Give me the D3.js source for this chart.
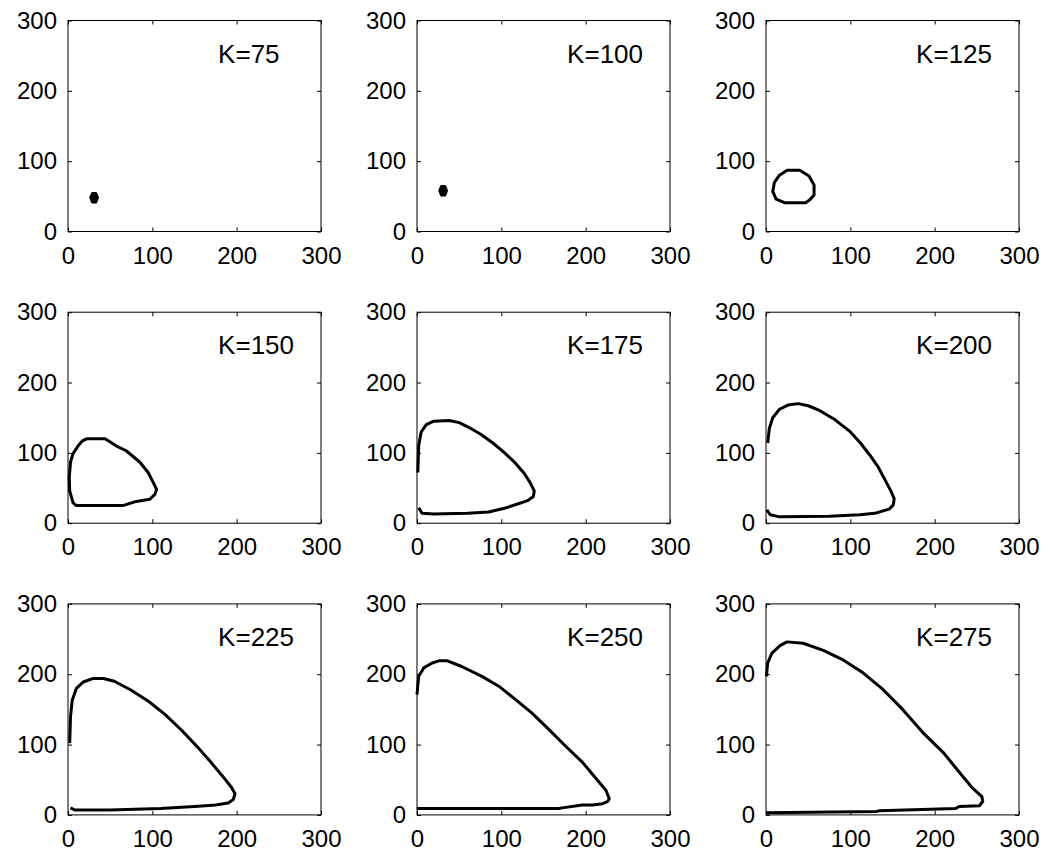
<!DOCTYPE html>
<html>
<head>
<meta charset="utf-8">
<script src="https://cdn.jsdelivr.net/npm/d3@7"></script>
<style>
body { margin: 0; background: #fff; }
text { font-family: "Liberation Sans", Arial, sans-serif; fill: #000; }
</style>
</head>
<body>
<div id="vis"></div>
<script>
// K value of each panel, row by row
var kValues = [75, 100, 125, 150, 175, 200, 225, 250, 275];
var ticks = [0, 100, 200, 300];

// boundary, [x, y] in data units
var k75 = [[29,42],[33,42],[35,48],[33,54],[29,54],[27,48]];
var k100 = [[29,52],[33,52],[35,58],[33,64],[29,64],[27,58]];
var k125 = [[25,87],[40,87],[51,79],[57,66],[57,52],[52,45],[47,41],[22,41],[12,46],[8,57],[10,70],[16,80]];
var k150 = [[22,120],[44,120],[57,110],[69,103],[85,87],[95,72],[101,58],[105,48],[103,41],[97,34],[81,31],[65,25],[10,25],[6,29],[2,46],[1.5,65],[3,87],[6,99],[12,110],[17,117]];
var k175 = [[1,72],[2,110],[5,130],[11,140],[20,145],[38,146],[50,143],[62,136],[76,126],[90,114],[104,100],[117,85],[127,71],[134,58],[139,46],[138,38],[131,32],[121,28],[106,22],[85,16],[60,14],[20,13],[6,14],[2,22]];
var k200 = [[2,114],[4,135],[8,150],[16,162],[26,168],[38,170],[50,167],[64,160],[82,147],[99,131],[112,114],[123,97],[133,80],[141,62],[148,46],[152,35],[151,26],[146,20],[129,14],[111,12],[75,10],[16,9],[5,12],[1,19]];
var k225 = [[2,102],[3,140],[5,163],[10,180],[18,189],[30,194],[42,194],[55,190],[74,178],[95,162],[115,143],[135,120],[154,96],[170,74],[184,54],[194,39],[198,30],[196,22],[190,17],[175,14],[150,12],[110,9],[50,7],[8,7],[3,10]];
var k250 = [[0,171],[2,197],[8,209],[18,216],[26,219],[36,219],[53,211],[77,197],[97,183],[117,164],[136,145],[156,122],[176,98],[196,75],[212,52],[224,35],[228,23],[226,19],[220,16],[208,14],[196,14],[172,10],[168,9],[77,9],[0,9]];
var k275 = [[0.5,197],[2,216],[7,230],[17,241],[25,246],[44,244],[68,234],[92,220],[115,202],[139,178],[162,150],[186,117],[210,89],[229,61],[245,38],[256,26],[257,19],[253,13],[229,12],[225,9],[135,6],[131,5],[0.5,3]];

var contours = [k75, k100, k125, k150, k175, k200, k225, k250, k275];
var closedLoops = [75, 100, 125, 150];

var width = 1051, height = 856;
var svg = d3.select("#vis").append("svg").attr("width", width).attr("height", height);

// panel grid
var left0 = 68, colStep = 349, top0 = 20.5, rowStep = 291.7;
var pw = 253, ph = 211;

var x = d3.scaleLinear().domain([0, 300]).range([0, pw]);
var y = d3.scaleLinear().domain([0, 300]).range([ph, 0]);

kValues.forEach(function(k, i){
    var col = i % 3, row = Math.floor(i / 3);
    var g = svg.append("g")
        .attr("transform", "translate(" + (left0 + col * colStep) + "," + (top0 + row * rowStep) + ")");

    // ticks on all four sides, pointing in
    g.append("g").attr("class", "ax").attr("transform", "translate(0," + ph + ")")
        .call(d3.axisBottom(x).tickValues(ticks).tickSizeInner(-4).tickSizeOuter(0).tickPadding(15));
    g.append("g").attr("class", "ax")
        .call(d3.axisLeft(y).tickValues(ticks).tickSizeInner(-4).tickSizeOuter(0).tickPadding(11));
    g.append("g").attr("class", "ax")
        .call(d3.axisTop(x).tickValues(ticks).tickSizeInner(-4).tickSizeOuter(0).tickFormat(""));
    g.append("g").attr("class", "ax").attr("transform", "translate(" + pw + ",0)")
        .call(d3.axisRight(y).tickValues(ticks).tickSizeInner(-4).tickSizeOuter(0).tickFormat(""));

    g.selectAll(".ax .domain").remove();
    g.selectAll(".ax line").attr("stroke", "#000").attr("stroke-width", 1);
    g.selectAll(".ax text").attr("font-size", "24px").attr("fill", "#000")
        .attr("font-family", "Liberation Sans, Arial, sans-serif");

    g.append("rect").attr("x", 0).attr("y", 0).attr("width", pw).attr("height", ph)
        .attr("fill", "none").attr("stroke", "#000").attr("stroke-width", 1);

    var pts = contours[i];
    var closed = closedLoops.indexOf(k) >= 0;
    var line = d3.line().x(function(d){ return x(d[0]); }).y(function(d){ return y(d[1]); });
    var xs = d3.extent(pts, function(d){ return d[0]; });
    g.append("path")
        .attr("d", line(pts) + (closed ? "Z" : ""))
        .attr("fill", (xs[1] - xs[0]) < 10 ? "#000" : "none")
        .attr("stroke", "#000")
        .attr("stroke-width", 3)
        .attr("stroke-linejoin", "round");

    g.append("text")
        .attr("x", x(178)).attr("y", y(240))
        .attr("font-size", "26px")
        .text("K=" + k);
});
</script>
</body>
</html>
